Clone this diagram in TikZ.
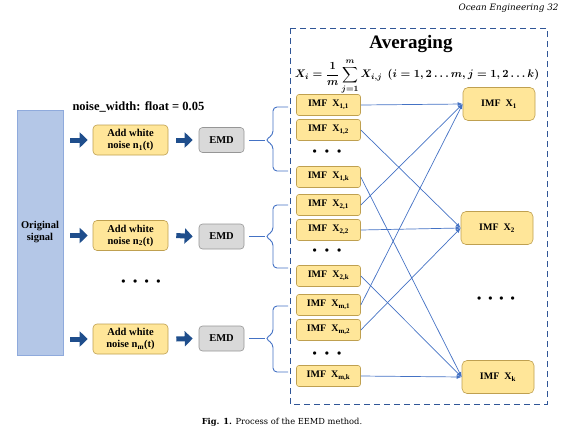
\documentclass[tikz,border=0pt]{standalone}
\usepackage{amsmath,amssymb}
\usepackage{fontspec}
\setmainfont{Liberation Serif}
\newfontfamily\capfont{DejaVu Serif}
\usepackage{tikz}
\usetikzlibrary{arrows.meta,positioning,calc}
\definecolor{lineBlue}{RGB}{68, 114, 196}
\definecolor{frameBlue}{RGB}{47, 85, 151}
\definecolor{arrowBlue}{RGB}{31, 78, 140}
\definecolor{signalBlue}{RGB}{180, 199, 231}
\definecolor{signalEdge}{RGB}{143, 170, 220}
\definecolor{imfYellow}{RGB}{255, 230, 153}
\definecolor{imfEdge}{RGB}{191, 160, 80}
\definecolor{emdGray}{RGB}{217, 217, 217}
\definecolor{emdEdge}{RGB}{150, 150, 150}
\newcommand{\avgEquation}{{\boldmath$\displaystyle X_i=\frac{1}{m}\sum_{j=1}^{m}X_{i,j}\ \ (i=1,2\ldots m, j=1,2\ldots k)$}}

\tikzset{
  imfBox/.style={draw=imfEdge, fill=imfYellow, rounded corners=2.5pt, line width=0.6pt, minimum width=64pt, minimum height=21pt, inner sep=1pt, font=\fontsize{10pt}{12pt}\selectfont\bfseries},
  sumBox/.style={imfBox, rounded corners=5pt, minimum width=72pt, minimum height=33pt},
  noiseBox/.style={imfBox, rounded corners=4pt, minimum width=75pt, minimum height=30pt, align=center, font=\fontsize{10.5pt}{12pt}\selectfont\bfseries},
  emdBox/.style={draw=emdEdge, fill=emdGray, rounded corners=3.5pt, line width=0.6pt, minimum width=45pt, minimum height=25pt, font=\fontsize{10.5pt}{12pt}\selectfont\bfseries},
  signalBox/.style={draw=signalEdge, fill=signalBlue, line width=0.6pt, minimum width=46pt, minimum height=245pt, align=center, font=\fontsize{10.5pt}{12pt}\selectfont\bfseries},
  blockArrow/.style={arrowBlue, line width=5pt, -{Triangle[length=8pt,width=15pt]}},
  imfLink/.style={lineBlue, line width=0.7pt, -{Latex[length=5pt,width=4pt]}},
  braceLine/.style={lineBlue, line width=0.9pt, rounded corners=4pt},
  braceLink/.style={lineBlue, line width=0.9pt},
  dotRow/.style={font=\fontsize{12pt}{12pt}\selectfont\bfseries},
}

\begin{document}
\begin{tikzpicture}[x=1pt, y=-1pt]
  \useasboundingbox (0,0) rectangle (562,437);

  % header and caption
  \node[anchor=west, font=\capfont\itshape\fontsize{8.8pt}{10pt}\selectfont] (journal) at (455,8) {Ocean Engineering 32};
  \node[font=\capfont\fontsize{8.3pt}{10pt}\selectfont] (caption) at (282,422) {\textbf{Fig. 1.} Process of the EEMD method.};

  % averaging frame
  \draw[frameBlue, line width=0.8pt, dash pattern=on 6pt off 4pt] (290,28) rectangle (547,404);
  \node[inner sep=0pt, font=\fontsize{19pt}{22pt}\selectfont\bfseries] (avgTitle) at (411,44.5) {Averaging};
  \node[inner sep=0pt, font=\fontsize{11pt}{13pt}\selectfont] (avgFormula) at (417,76.5) {\avgEquation};

  % input side
  \node[signalBox] (sig) at (40,232.5) {Original\\signal};
  \node[anchor=west, font=\fontsize{12.5pt}{14pt}\selectfont\bfseries] (noiseLabel) at (69,107) {noise\_width: float = 0.05};

  \node[noiseBox] (add1) at (130.5,140) {Add white\\noise n\textsubscript{1}(t)};
  \node[noiseBox] (add2) at (130.5,235.5) {Add white\\noise n\textsubscript{2}(t)};
  \node[noiseBox] (add3) at (130.5,339) {Add white\\noise n\textsubscript{m}(t)};
  \node[dotRow] (addDots) at (141,283) {\textbullet\hspace{7.5pt}\textbullet\hspace{7.5pt}\textbullet\hspace{7.5pt}\textbullet};

  \node[emdBox] (emd1) at (221.5,140) {EMD};
  \node[emdBox] (emd2) at (221.5,236.5) {EMD};
  \node[emdBox] (emd3) at (221.5,338.5) {EMD};

  \draw[blockArrow] ([xshift=7pt]sig.east |- add1) -- ([xshift=-5pt]add1.west);
  \draw[blockArrow] ([xshift=7pt]sig.east |- add2) -- ([xshift=-5pt]add2.west);
  \draw[blockArrow] ([xshift=7pt]sig.east |- add3) -- ([xshift=-5pt]add3.west);
  \draw[blockArrow] ([xshift=8pt]add1.east) -- ([xshift=-6pt]emd1.west);
  \draw[blockArrow] ([xshift=8pt]add2.east) -- ([xshift=-6pt]emd2.west);
  \draw[blockArrow] ([xshift=8pt]add3.east) -- ([xshift=-6pt]emd3.west);

  % IMF components
  \node[imfBox] (x11) at (328.5,105) {IMF\ \ X\textsubscript{1,1}};
  \node[imfBox] (x12) at (328.5,130) {IMF\ \ X\textsubscript{1,2}};
  \node[dotRow] (dots1) at (327,153) {\textbullet\hspace{8pt}\textbullet\hspace{8pt}\textbullet};
  \node[imfBox] (x1k) at (328.5,177) {IMF\ \ X\textsubscript{1,k}};
  \node[imfBox] (x21) at (328.5,205) {IMF\ \ X\textsubscript{2,1}};
  \node[imfBox] (x22) at (328.5,230) {IMF\ \ X\textsubscript{2,2}};
  \node[dotRow] (dots2) at (327,252) {\textbullet\hspace{8pt}\textbullet\hspace{8pt}\textbullet};
  \node[imfBox] (x2k) at (328.5,276) {IMF\ \ X\textsubscript{2,k}};
  \node[imfBox] (xm1) at (328.5,305) {IMF\ \ X\textsubscript{m,1}};
  \node[imfBox] (xm2) at (328.5,330) {IMF\ \ X\textsubscript{m,2}};
  \node[dotRow] (dots3) at (327,355) {\textbullet\hspace{8pt}\textbullet\hspace{8pt}\textbullet};
  \node[imfBox] (xmk) at (328.5,376) {IMF\ \ X\textsubscript{m,k}};

  % braces
  \coordinate (tip1) at (265,140);
  \coordinate (tip2) at (265,236.5);
  \coordinate (tip3) at (265,338.5);
  \draw[braceLine] (288,107) -- (273,107) -- (273,135) -- (tip1) -- (273,145) -- (273,171) -- (288,171);
  \draw[braceLine] (288,205) -- (273,205) -- (273,231.5) -- (tip2) -- (273,241.5) -- (273,268) -- (288,268);
  \draw[braceLine] (288,306) -- (273,306) -- (273,333.5) -- (tip3) -- (273,343.5) -- (273,372) -- (288,372);
  \draw[braceLink] ([xshift=5pt]emd1.east) -- (tip1);
  \draw[braceLink] ([xshift=5pt]emd2.east) -- (tip2);
  \draw[braceLink] ([xshift=5pt]emd3.east) -- (tip3);

  % averaged IMFs
  \node[sumBox] (s1) at (499,104) {IMF\ \ X\textsubscript{1}};
  \node[sumBox] (s2) at (497,228) {IMF\ \ X\textsubscript{2}};
  \node[sumBox] (sk) at (498,377) {IMF\ \ X\textsubscript{k}};
  \node[dotRow] (sumDots) at (496,300) {\textbullet\hspace{7pt}\textbullet\hspace{7pt}\textbullet\hspace{7pt}\textbullet};

  \draw[imfLink] (x11.east) -- (s1.west);
  \draw[imfLink] (x21.east) -- (s1.west);
  \draw[imfLink] (xm1.east) -- (s1.west);
  \draw[imfLink] (x12.east) -- (s2.west);
  \draw[imfLink] (x22.east) -- (s2.west);
  \draw[imfLink] (xm2.east) -- (s2.west);
  \draw[imfLink] (x1k.east) -- (sk.west);
  \draw[imfLink] (x2k.east) -- (sk.west);
  \draw[imfLink] (xmk.east) -- (sk.west);
\end{tikzpicture}
\end{document}
